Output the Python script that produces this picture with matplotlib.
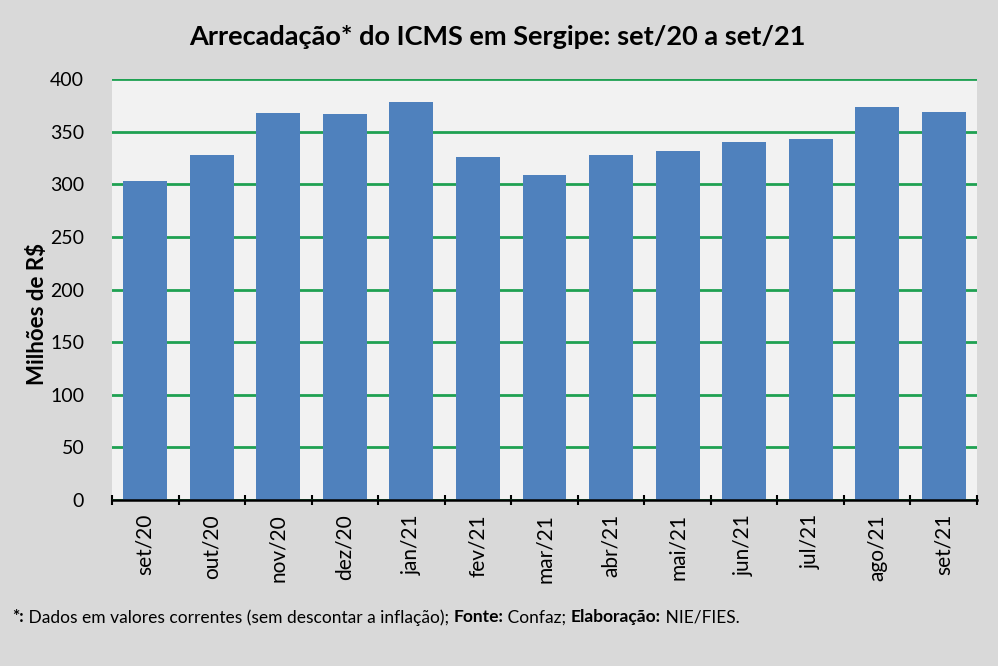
import numpy as np
import matplotlib.pyplot as plt

meses = ["set/20", "out/20", "nov/20", "dez/20", "jan/21", "fev/21", "mar/21",
         "abr/21", "mai/21", "jun/21", "jul/21", "ago/21", "set/21"]
icms = [303, 328, 368, 367, 378, 326, 309, 328, 332, 340, 343, 373, 369]

plt.rcParams['font.family'] = ['Lato', 'DejaVu Sans']

fig = plt.figure(figsize=(9.98, 6.66), dpi=100, facecolor="#D9D9D9")
ax = fig.add_axes([0.1122, 0.2492, 0.8668, 0.6322])
ax.set_facecolor("#F2F2F2")

x = np.arange(len(meses))
ax.bar(x, icms, width=0.66, color="#4F81BD", zorder=3)

ax.set_xlim(-0.5, len(meses) - 0.5)
ax.set_ylim(0, 400)
ax.set_yticks(range(0, 401, 50))
ax.yaxis.grid(True, color="#1FA152", linewidth=2, zorder=1)
ax.tick_params(axis="y", length=0, labelsize=14, pad=20)

ax.set_xticks(x)
ax.set_xticklabels(meses, rotation=90, fontsize=15)
ax.set_xticks(np.arange(-0.5, len(meses), 1), minor=True)
ax.tick_params(axis="x", which="major", length=0, pad=10)
ax.tick_params(axis="x", which="minor", length=7, width=1.5, color="black", direction="inout")

for s in ["top", "right", "left"]:
    ax.spines[s].set_visible(False)
ax.spines["bottom"].set_linewidth(1.8)
ax.spines["bottom"].set_zorder(4)

ax.set_ylabel("Milhões de R$", fontsize=16, fontweight="bold")
ax.yaxis.set_label_coords(-0.074, 0.442)

fig.text(0.498, 0.944, "Arrecadação* do ICMS em Sergipe: set/20 a set/21",
         ha="center", va="center", fontsize=19.5, fontweight="bold")

# nota de rodapé com partes em negrito
parts = [("*:", "bold"), (" Dados em valores correntes (sem descontar a inflação); ", "normal"),
         ("Fonte:", "bold"), (" Confaz; ", "normal"), ("Elaboração:", "bold"), (" NIE/FIES.", "normal")]
renderer = fig.canvas.get_renderer()
xpos = 12
for txt, w in parts:
    t = fig.text(xpos / 998, 0.073, txt, fontsize=12.5, fontweight=w, va="center")
    bb = t.get_window_extent(renderer=renderer)
    xpos += bb.width

fig.savefig("out.png", dpi=100, facecolor=fig.get_facecolor())
